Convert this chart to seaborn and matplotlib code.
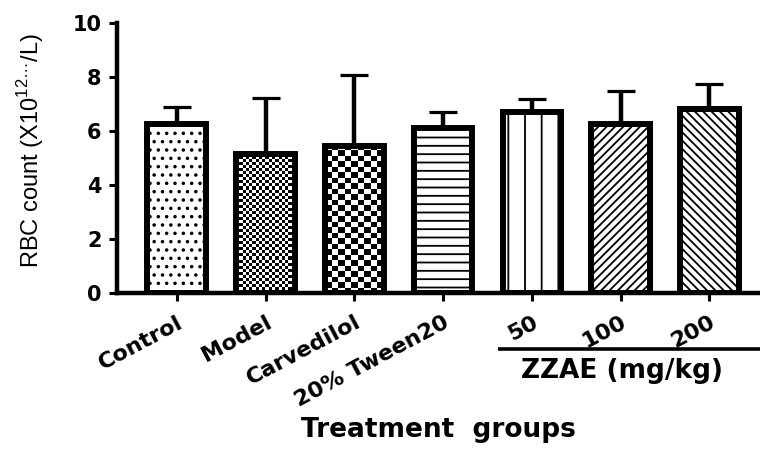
import numpy as np
import pandas as pd
import matplotlib
matplotlib.use("Agg")
import matplotlib.pyplot as plt
import matplotlib.transforms as mtransforms
import seaborn as sns

# RBC count per treatment group (mean and upper SD)
groups = ["Control", "Model", "Carvedilol", "20% Tween20", "50", "100", "200"]
rbc_mean = [6.25, 5.15, 5.45, 6.10, 6.70, 6.25, 6.80]
rbc_sd = [0.62, 2.05, 2.60, 0.59, 0.47, 1.22, 0.92]
y_ticks = [0, 2, 4, 6, 8, 10]
dose_label = "ZZAE (mg/kg)"

# fill style of every bar: a hatch string, or a checkerboard cell size in pixels
hatches = ["..", None, None, "--", "|", "////", "\\\\\\\\"]
checker_cells = {1: (3.3, 3.0), 2: (6.5, 5.5)}

sns.set_style("ticks")
plt.rcParams["font.family"] = ["DejaVu Sans"]
plt.rcParams["hatch.linewidth"] = 1.3
for key in ["text.color", "axes.labelcolor", "xtick.color", "ytick.color",
            "axes.edgecolor"]:
    plt.rcParams[key] = "black"

fig = plt.figure(figsize=(7.6, 4.51), dpi=100)
ax = fig.add_axes([0.1536, 0.351, 0.8464, 0.5987])

df = pd.DataFrame({"group": groups, "rbc": rbc_mean})
sns.barplot(data=df, x="group", y="rbc", order=groups, color="white",
            saturation=1, edgecolor="black", linewidth=4.3, width=0.66,
            errorbar=None, ax=ax)

x = np.arange(len(groups))
ax.errorbar(x, rbc_mean, yerr=[np.zeros(len(x)), rbc_sd], fmt="none",
            ecolor="black", elinewidth=3.2, capsize=10, capthick=2.3, zorder=3)

ax.set_xlim(-0.676, 6.57)
ax.set_ylim(0, 10)

for i, bar in enumerate(list(ax.patches)):
    bar.set_edgecolor("black")
    if hatches[i]:
        bar.set_hatch(hatches[i])
    if i in checker_cells:
        cw, ch = checker_cells[i]
        bx0 = bar.get_x()
        bx1 = bx0 + bar.get_width()
        h = bar.get_height()
        (px0, py0), (px1, py1) = ax.transData.transform([(bx0, 0), (bx1, h)])
        ncol = max(1, int(round((px1 - px0) / cw)))
        nrow = max(1, int(round((py1 - py0) / ch)))
        board = np.add.outer(np.arange(nrow), np.arange(ncol)) % 2
        im = ax.imshow(board, cmap="binary", vmin=0, vmax=1, origin="lower",
                       extent=(bx0, bx1, 0, h), aspect="auto",
                       interpolation="nearest", zorder=0.9)
        im.set_clip_path(bar)
        bar.set_facecolor("none")

ax.set_xlim(-0.676, 6.57)
ax.set_ylim(0, 10)
ax.set_yticks(y_ticks)
ax.set_yticklabels([str(v) for v in y_ticks], fontsize=15, fontweight="bold")
ax.set_xticks(x)
ax.set_xticklabels(groups, rotation=28, ha="right", rotation_mode="anchor",
                   fontsize=16, fontweight="bold")

for side in ["top", "right"]:
    ax.spines[side].set_visible(False)
for side in ["left", "bottom"]:
    ax.spines[side].set_linewidth(3.2)
ax.tick_params(axis="both", width=2.2, length=6, direction="out", color="black")
ax.tick_params(axis="x", pad=8)
ax.tick_params(axis="y", pad=5)

# dose bracket under the extract groups
trans = mtransforms.blended_transform_factory(ax.transData, ax.transAxes)
ax.plot([3.62, 6.57], [-0.21, -0.21], transform=trans, color="black", lw=2.6,
        clip_on=False, solid_capstyle="butt")
ax.text(5.02, -0.316, dose_label, transform=trans, ha="center", va="baseline",
        fontsize=19, fontweight="bold")

ax.set_xlabel("Treatment  groups", fontsize=19, fontweight="bold", va="baseline")
ax.xaxis.set_label_coords(0.5, -0.534)
ax.set_ylabel("RBC count (X10$^{\\mathregular{12\u2026}}$/L)", fontsize=17,
              fontfamily="Liberation Sans")
ax.yaxis.set_label_coords(-0.11, 0.528)

fig.savefig("out.png", dpi=100)
